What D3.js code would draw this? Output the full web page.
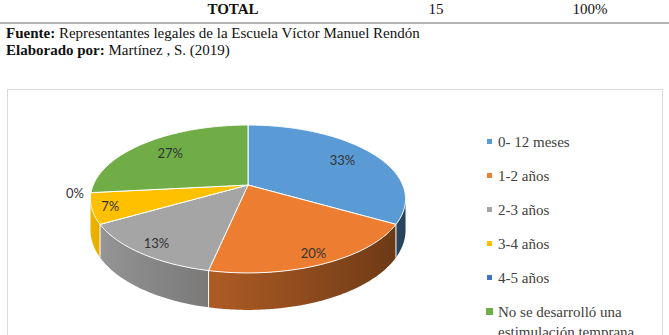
<!DOCTYPE html>
<html><head><meta charset="utf-8">
<script src="https://cdn.jsdelivr.net/npm/d3@7"></script>
<style>html,body{margin:0;padding:0;background:#fff;overflow:hidden}</style>
</head><body>
<svg id="c" width="669" height="335"></svg>
<script>
// ---- data ----
const categories = ["0- 12 meses", "1-2 años", "2-3 años", "3-4 años", "4-5 años", "No se desarrolló una estimulación temprana"];
const values = [5, 3, 2, 1, 0, 4];
const percentLabels = ["33%", "20%", "13%", "7%", "0%", "27%"];
const colors = ["#5B9BD5", "#ED7D31", "#A5A5A5", "#FFC000", "#4472C4", "#70AD47"];
const tableRow = ["TOTAL", "15", "100%"];
const sourceLines = [["Fuente:", " Representantes legales de la Escuela Víctor Manuel Rendón"], ["Elaborado por:", " Martínez , S. (2019)"]];

const svg = d3.select("#c");
const defs = svg.append("defs");
const serif = "'Liberation Serif','Times New Roman',serif";

// ---- header (table tail + source) ----
const colX = [233, 436, 590];
svg.selectAll("text.row").data(tableRow).join("text")
  .attr("x", (d, i) => colX[i]).attr("y", 14)
  .attr("text-anchor", "middle")
  .attr("font-family", serif).attr("font-size", 15)
  .attr("font-weight", (d, i) => i === 0 ? "bold" : "normal")
  .attr("fill", "#111").text(d => d);
svg.append("line").attr("x1", 0).attr("x2", 669).attr("y1", 23).attr("y2", 23)
  .attr("stroke", "#666").attr("stroke-width", 1.2);
sourceLines.forEach((l, i) => {
  const t = svg.append("text").attr("x", 6).attr("y", 38 + i * 17)
    .attr("font-family", serif).attr("font-size", 15).attr("fill", "#111");
  t.append("tspan").attr("font-weight", "bold").text(l[0]);
  t.append("tspan").text(l[1]);
});

// chart frame
svg.append("rect").attr("x", 7.5).attr("y", 89.5).attr("width", 655).attr("height", 260)
  .attr("fill", "#fff").attr("stroke", "#d9d9d9");

// ---- 3D pie ----
const cx = 248, cy = 185, Rx = 154.7, Ry = 71.3, k = 0.189, depth = 30;
function proj(r, a, dz) {
  const u = r * Math.sin(a), v = r * Math.cos(a), w = 1 + k * v;
  return [cx + Rx * u / w, cy - Ry * v / w + (dz || 0) / w];
}
const pie = d3.pie().sort(null).value(d => d).startAngle(0).endAngle(2 * Math.PI);
const arcs = pie(values).map((a, i) => Object.assign(a, {i}));

function arcPts(a0, a1, dz) {
  const n = Math.max(2, Math.ceil((a1 - a0) / 0.01));
  return d3.range(n + 1).map(j => proj(1, a0 + (a1 - a0) * j / n, dz));
}
const line = d3.line();
const sil0 = Math.acos(-k), sil1 = 2 * Math.PI - Math.acos(-k);
const gWalls = svg.append("g");

arcs.forEach(a => {
  const s = Math.max(a.startAngle, sil0), e = Math.min(a.endAngle, sil1);
  if (e <= s) return;
  const base = d3.color(colors[a.i]);
  const topPts = arcPts(s, e), botPts = arcPts(s, e, depth).reverse();
  const xs = [proj(1, s)[0], proj(1, e)[0]];
  const x1 = Math.min(...xs), x2 = Math.max(...xs);
  const id = "wg" + a.i;
  const g = defs.append("linearGradient").attr("id", id).attr("gradientUnits", "userSpaceOnUse")
    .attr("x1", x1).attr("x2", x2).attr("y1", 0).attr("y2", 0);
  const n = 12;
  d3.range(n + 1).map(j => s + (e - s) * j / n).map(t => {
    const f = 0.68 - 0.26 * Math.sin(t);
    return {off: x2 > x1 ? (proj(1, t)[0] - x1) / (x2 - x1) : 0,
            c: d3.rgb(base.r * f, base.g * f, base.b * f).formatHex()};
  }).sort((p, q) => p.off - q.off).forEach(st =>
    g.append("stop").attr("offset", st.off).attr("stop-color", st.c));
  gWalls.append("path").attr("d", line(topPts.concat(botPts)) + "Z").attr("fill", `url(#${id})`);
});
// white separators on walls
arcs.forEach(a => {
  const t = a.startAngle;
  if (t > sil0 && t < sil1) {
    const p0 = proj(1, t), p1 = proj(1, t, depth);
    gWalls.append("line").attr("x1", p0[0]).attr("y1", p0[1]).attr("x2", p1[0]).attr("y2", p1[1])
      .attr("stroke", "#fff").attr("stroke-width", 1);
  }
});

// top faces
svg.append("g").selectAll("path").data(arcs.filter(a => a.value > 0)).join("path")
  .attr("d", a => line([[cx, cy]].concat(arcPts(a.startAngle, a.endAngle))) + "Z")
  .attr("fill", a => colors[a.i])
  .attr("stroke", "#fff").attr("stroke-width", 1).attr("stroke-linejoin", "round");

// labels
svg.append("g").selectAll("text").data(arcs).join("text")
  .each(function (a) {
    const mid = (a.startAngle + a.endAngle) / 2;
    let r = a.value === 0 ? 1.1 : 0.8 - 0.09 * Math.cos(mid) + (a.value / 15 < 0.1 ? 0.06 : 0);
    const p = proj(r, mid);
    d3.select(this).attr("x", p[0]).attr("y", p[1]);
  })
  .attr("text-anchor", "middle").attr("dominant-baseline", "central")
  .attr("font-family", "Lato, 'Open Sans', sans-serif").attr("font-size", 13)
  .attr("fill", "#333")
  .text((a) => percentLabels[a.i]);

// ---- legend ----
const ly = d3.scalePoint().domain(d3.range(categories.length)).range([142, 312]);
const lg = svg.append("g").selectAll("g").data(categories).join("g")
  .attr("transform", (d, i) => `translate(0,${ly(i)})`);
lg.append("rect")
  .attr("x", (d, i) => i === 5 ? 486 : 487).attr("y", (d, i) => i === 5 ? -4 : -3)
  .attr("width", (d, i) => i === 5 ? 7 : 5).attr("height", (d, i) => i === 5 ? 7 : 5)
  .attr("fill", (d, i) => colors[i]);
lg.append("text").attr("x", 498).attr("y", 0).attr("dominant-baseline", "central")
  .attr("font-family", serif).attr("font-size", 15).attr("fill", "#404040")
  .each(function (d, i) {
    const t = d3.select(this);
    if (i === 5) {
      t.append("tspan").attr("x", 498).text("No se desarrolló una");
      t.append("tspan").attr("x", 498).attr("dy", 20).text("estimulación temprana");
    } else t.text(d);
  });
</script>
</body></html>
